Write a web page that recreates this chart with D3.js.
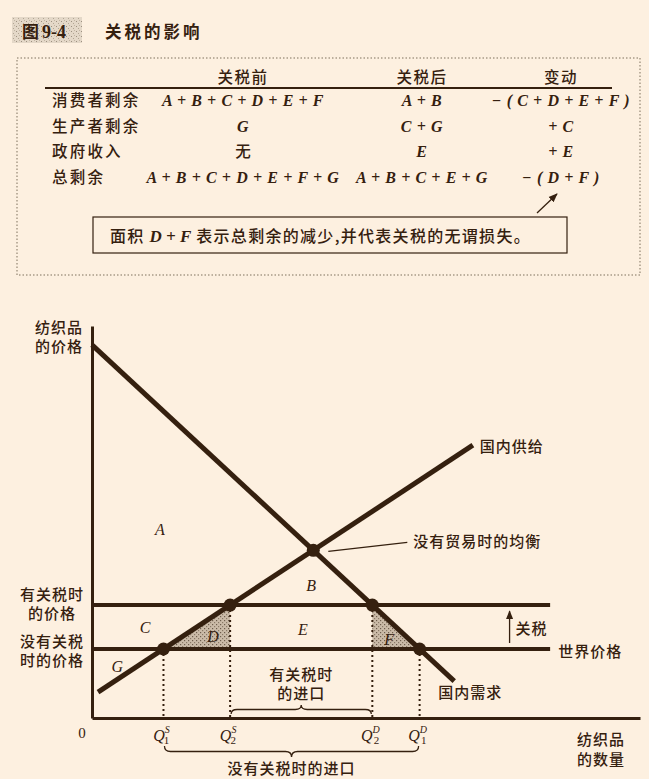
<!DOCTYPE html>
<html><head><meta charset="utf-8">
<script src="https://cdn.jsdelivr.net/npm/d3@7/dist/d3.min.js"></script>
<style>
html,body{margin:0;padding:0;background:#fdf0e0;}
svg{display:block;}
</style></head>
<body>
<svg id="c" width="649" height="779"></svg>
<script>
// ---------- data ----------
const figureNumber = "图 9-4";
const figureTitle = "关税的影响";
const colHeaders = ["关税前", "关税后", "变动"];
const rowLabels = ["消费者剩余", "生产者剩余", "政府收入", "总剩余"];
const beforeTariff = ["A + B + C + D + E + F", "G", "无", "A + B + C + D + E + F + G"];
const afterTariff = ["A + B", "C + G", "E", "A + B + C + E + G"];
const changeCol = ["− ( C + D + E + F )", "+ C", "+ E", "− ( D + F )"];
const noteParts = ["面积 ", "D + F", " 表示总剩余的减少,并代表关税的无谓损失。"];

const demandCurve = [{q: 0, p: 95.2}, {q: 66.1, p: 9.4}];
const supplyCurve = [{q: 1.1, p: 6.6}, {q: 69.5, p: 69.6}];
const worldPrice = 17.6;
const tariffPrice = 28.8;
const priceLineEndQ = 83.6;
const areaNames = ["A", "B", "C", "D", "E", "F", "G"];
const qLabels = [["Q", "S", "1"], ["Q", "S", "2"], ["Q", "D", "2"], ["Q", "D", "1"]];
const curveLabels = ["国内供给", "国内需求", "世界价格", "没有贸易时的均衡", "关税"];
const yAxisTitle = ["纺织品", "的价格"];
const xAxisTitle = ["纺织品", "的数量"];
const tariffPriceLabel = ["有关税时", "的价格"];
const worldPriceLabel = ["没有关税", "时的价格"];
const importWithTariff = ["有关税时", "的进口"];
const importNoTariff = "没有关税时的进口";

// ---------- style ----------
const INK = "#35200f";
const CJK = "'Noto Sans CJK SC','Noto Sans',sans-serif";
const SERIF = "'Liberation Serif','DejaVu Serif',serif";

const svg = d3.select("#c");
const defs = svg.append("defs");

const pat = defs.append("pattern").attr("id", "stip").attr("patternUnits", "userSpaceOnUse")
  .attr("width", 4).attr("height", 4);
pat.append("rect").attr("width", 4).attr("height", 4).attr("fill", "#cbbba8");
pat.append("rect").attr("x", 0).attr("y", 0).attr("width", 1.2).attr("height", 1.2).attr("fill", "#6e5d4c");
pat.append("rect").attr("x", 2).attr("y", 2).attr("width", 1.2).attr("height", 1.2).attr("fill", "#8a7967");
const pat2 = defs.append("pattern").attr("id", "speck").attr("patternUnits", "userSpaceOnUse")
  .attr("width", 5).attr("height", 5);
pat2.append("rect").attr("width", 5).attr("height", 5).attr("fill", "#e4d8c8");
pat2.append("rect").attr("x", 1).attr("y", 1).attr("width", 1).attr("height", 1).attr("fill", "#9d9080");
pat2.append("rect").attr("x", 3).attr("y", 3).attr("width", 1).attr("height", 1).attr("fill", "#b3a694");
pat2.append("rect").attr("x", 4).attr("y", 0).attr("width", 1).attr("height", 1).attr("fill", "#c2b5a3");

defs.append("marker").attr("id", "arr").attr("viewBox", "0 0 10 10").attr("refX", 9).attr("refY", 5)
  .attr("markerWidth", 7).attr("markerHeight", 7).attr("orient", "auto-start-reverse")
  .append("path").attr("d", "M0,1 L10,5 L0,9 Z").attr("fill", INK);

// ---------- header ----------
svg.append("rect").attr("x", 12).attr("y", 17).attr("width", 70).attr("height", 26).attr("fill", "url(#speck)");
const fn = svg.append("text").attr("x", 22).attr("y", 38).attr("font-weight", 700)
  .attr("font-size", 17).attr("fill", INK);
fn.append("tspan").attr("font-family", CJK).text(figureNumber.split(" ")[0]);
fn.append("tspan").attr("font-family", SERIF).attr("font-size", 18).attr("dx", 3).text(figureNumber.split(" ")[1]);
svg.append("text").attr("x", 105).attr("y", 38).attr("font-family", CJK).attr("font-weight", 700)
  .attr("font-size", 16.5).attr("letter-spacing", 3).attr("fill", INK).text(figureTitle);

svg.append("rect").attr("x", 17).attr("y", 58).attr("width", 623).attr("height", 217)
  .attr("fill", "none").attr("stroke", "#a89a88").attr("stroke-width", 1.5).attr("stroke-dasharray", "1.5,2");

const colCenter = i => [243, 422, 561][i];
const rowY = d3.scaleBand().domain(rowLabels).range([88, 190]);

colHeaders.forEach((h, i) => {
  svg.append("text").attr("x", colCenter(i)).attr("y", 83).attr("text-anchor", "middle")
    .attr("font-family", CJK).attr("font-weight", 500).attr("font-size", 15.5).attr("letter-spacing", 1.5).attr("fill", INK).text(h);
});
svg.append("line").attr("x1", 45).attr("x2", 612).attr("y1", 88).attr("y2", 88)
  .attr("stroke", INK).attr("stroke-width", 2.2);

const isCJK = s => /[\u4e00-\u9fff]/.test(s);
const cols = [beforeTariff, afterTariff, changeCol];
rowLabels.forEach((r, ri) => {
  const yy = rowY(r) + rowY.bandwidth() / 2 + 5.5;
  svg.append("text").attr("x", 52).attr("y", yy).attr("font-family", CJK).attr("font-weight", 500).attr("font-size", 15.5)
    .attr("letter-spacing", 2.2).attr("fill", INK).text(r);
  cols.forEach((col, ci) => {
    const s = col[ri];
    const t = svg.append("text").attr("x", colCenter(ci)).attr("y", yy).attr("text-anchor", "middle").attr("fill", INK);
    if (isCJK(s)) t.attr("font-family", CJK).attr("font-weight", 500).attr("font-size", 15.5).text(s);
    else t.attr("font-family", SERIF).attr("font-style", "italic").attr("font-weight", 700)
      .attr("font-size", 16).attr("letter-spacing", 0.6).attr("xml:space", "preserve").text(s);
  });
});

svg.append("rect").attr("x", 93).attr("y", 217).attr("width", 474).attr("height", 36)
  .attr("fill", "none").attr("stroke", INK).attr("stroke-width", 1.2);
const note = svg.append("text").attr("x", 110).attr("y", 242).attr("fill", INK).attr("font-size", 16);
note.append("tspan").attr("font-family", CJK).attr("font-weight", 500).attr("letter-spacing", 1.3).text(noteParts[0]);
note.append("tspan").attr("font-family", SERIF).attr("font-style", "italic").attr("font-weight", 700)
  .attr("font-size", 17).attr("xml:space", "preserve").text(noteParts[1]);
note.append("tspan").attr("font-family", CJK).attr("font-weight", 500).attr("letter-spacing", 1.3).attr("xml:space", "preserve").text(noteParts[2]);
svg.append("line").attr("x1", 537).attr("y1", 213).attr("x2", 557).attr("y2", 194)
  .attr("stroke", INK).attr("stroke-width", 1.3).attr("marker-end", "url(#arr)");

// ---------- chart ----------
const x = d3.scaleLinear().domain([0, 100]).range([92, 640]);
const y = d3.scaleLinear().domain([0, 100]).range([718, 326]);

const lineFn = d3.line().x(d => x(d.q)).y(d => y(d.p));
const slope = c => (c[1].p - c[0].p) / (c[1].q - c[0].q);
const qAt = (c, p) => c[0].q + (p - c[0].p) / slope(c);
const pAt = (c, q) => c[0].p + (q - c[0].q) * slope(c);

const q1s = qAt(supplyCurve, worldPrice), q2s = qAt(supplyCurve, tariffPrice);
const q2d = qAt(demandCurve, tariffPrice), q1d = qAt(demandCurve, worldPrice);
const sD = slope(demandCurve), sS = slope(supplyCurve);
const qEq = (supplyCurve[0].p - sS * supplyCurve[0].q - demandCurve[0].p + sD * demandCurve[0].q) / (sD - sS);
const pEq = pAt(demandCurve, qEq);

const triD = [{q: q1s, p: worldPrice}, {q: q2s, p: tariffPrice}, {q: q2s, p: worldPrice}];
const triF = [{q: q2d, p: tariffPrice}, {q: q1d, p: worldPrice}, {q: q2d, p: worldPrice}];
[triD, triF].forEach(t => svg.append("path").attr("d", lineFn(t) + "Z").attr("fill", "url(#stip)"));

[[q1s, worldPrice], [q2s, tariffPrice], [q2d, tariffPrice], [q1d, worldPrice]].forEach(([q, p]) => {
  svg.append("line").attr("x1", x(q)).attr("x2", x(q)).attr("y1", y(p)).attr("y2", y(0))
    .attr("stroke", INK).attr("stroke-width", 2).attr("stroke-dasharray", "2,3");
});

const xAxis = d3.axisBottom(x).tickValues([]).tickSizeOuter(0);
const yAxis = d3.axisLeft(y).tickValues([]).tickSizeOuter(0);
svg.append("g").attr("transform", `translate(0,${y(0)})`).call(xAxis)
  .select(".domain").attr("stroke", INK).attr("stroke-width", 3);
svg.append("g").attr("transform", `translate(${x(0)},0)`).call(yAxis)
  .select(".domain").attr("stroke", INK).attr("stroke-width", 3);

[worldPrice, tariffPrice].forEach(p => {
  svg.append("line").attr("x1", x(0)).attr("x2", x(priceLineEndQ)).attr("y1", y(p)).attr("y2", y(p))
    .attr("stroke", INK).attr("stroke-width", 4);
});
svg.append("path").attr("d", lineFn(demandCurve)).attr("stroke", INK).attr("stroke-width", 5).attr("fill", "none");
svg.append("path").attr("d", lineFn(supplyCurve)).attr("stroke", INK).attr("stroke-width", 5).attr("fill", "none");

[[q1s, worldPrice], [q2s, tariffPrice], [q2d, tariffPrice], [q1d, worldPrice], [qEq, pEq]].forEach(([q, p]) => {
  svg.append("circle").attr("cx", x(q)).attr("cy", y(p)).attr("r", 6.5).attr("fill", INK);
});

const areaPos = {A: [12.4, 48], B: [40, 33.6], C: [9.7, 23], D: [22.1, 20.6], E: [38.5, 22.4], F: [54.2, 19.9], G: [4.6, 12.9]};
areaNames.forEach(n => {
  svg.append("text").attr("x", x(areaPos[n][0])).attr("y", y(areaPos[n][1]) + 5).attr("text-anchor", "middle")
    .attr("font-family", SERIF).attr("font-style", "italic").attr("font-size", 16).attr("fill", INK).text(n);
});

const lab = (t, px, py, anchor) => svg.append("text").attr("x", px).attr("y", py).attr("text-anchor", anchor || "start")
  .attr("font-family", CJK).attr("font-weight", 500).attr("font-size", 15).attr("letter-spacing", 1).attr("fill", INK).text(t);
lab(curveLabels[0], x(supplyCurve[1].q) + 7, y(supplyCurve[1].p) + 7);
lab(curveLabels[1], x(demandCurve[1].q) - 16, y(demandCurve[1].p) + 17);
lab(curveLabels[2], x(priceLineEndQ) + 8, y(worldPrice) + 8);
lab(curveLabels[3], x(qEq) + 100, y(pEq) - 3);
svg.append("line").attr("x1", x(qEq) + 15).attr("y1", y(pEq) + 1).attr("x2", x(qEq) + 94).attr("y2", y(pEq) - 8)
  .attr("stroke", INK).attr("stroke-width", 1.2);
const arrX = x(76.2);
svg.append("line").attr("x1", arrX).attr("x2", arrX).attr("y1", y(worldPrice) - 6).attr("y2", y(tariffPrice) + 6)
  .attr("stroke", INK).attr("stroke-width", 1.3).attr("marker-end", "url(#arr)");
lab(curveLabels[4], arrX + 6, (y(worldPrice) + y(tariffPrice)) / 2 + 7);

const stack = (lines, cx, cy, dy) => {
  const t = svg.append("text").attr("text-anchor", "middle").attr("font-family", CJK).attr("font-weight", 500)
    .attr("font-size", 15).attr("letter-spacing", 1).attr("fill", INK);
  lines.forEach((s, i) => t.append("tspan").attr("x", cx).attr("y", cy + i * dy).text(s));
};
stack(yAxisTitle, 59, 333, 19);
stack(tariffPriceLabel, 52, y(tariffPrice) - 5, 19);
stack(worldPriceLabel, 52, y(worldPrice) - 2, 19);
stack(xAxisTitle, 601, 745, 20);
stack(importWithTariff, (x(q2s) + x(q2d)) / 2, 680, 19);

svg.append("text").attr("x", 82).attr("y", 738).attr("text-anchor", "middle").attr("font-family", SERIF)
  .attr("font-size", 15).attr("fill", INK).text("0");

[q1s, q2s, q2d, q1d].forEach((q, i) => {
  const t = svg.append("text").attr("x", x(q) - 2).attr("y", 741).attr("text-anchor", "middle")
    .attr("font-family", SERIF).attr("font-style", "italic").attr("font-size", 16).attr("fill", INK);
  t.append("tspan").text(qLabels[i][0]);
  t.append("tspan").attr("font-size", 10).attr("dy", -8).text(qLabels[i][1]);
  t.append("tspan").attr("font-size", 11).attr("font-style", "normal").attr("dx", -6).attr("dy", 11).text(qLabels[i][2]);
});

function brace(x1, x2, yb, h) {
  const xm = (x1 + x2) / 2, r = 6, ym = yb + h / 2, yt = yb + h;
  return `M${x1},${yb} Q${x1},${ym} ${x1 + r},${ym} L${xm - r},${ym} Q${xm},${ym} ${xm},${yt} ` +
    `Q${xm},${ym} ${xm + r},${ym} L${x2 - r},${ym} Q${x2},${ym} ${x2},${yb}`;
}
svg.append("path").attr("d", brace(x(q1s) + 1, x(q1d) - 1, 746, 11)).attr("fill", "none")
  .attr("stroke", INK).attr("stroke-width", 1.3);
svg.append("path").attr("d", brace(x(q2s) + 1, x(q2d) - 1, 714, -9)).attr("fill", "none")
  .attr("stroke", INK).attr("stroke-width", 1.3);
lab(importNoTariff, (x(q1s) + x(q1d)) / 2, 774, "middle");
</script>
</body></html>
